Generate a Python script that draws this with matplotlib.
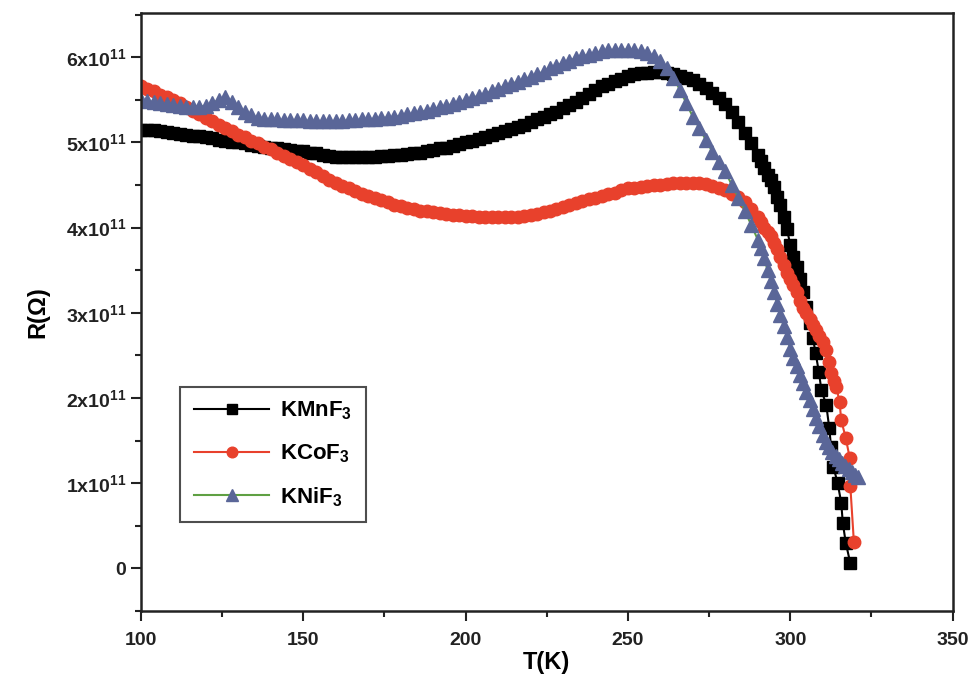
import matplotlib.pyplot as plt
from matplotlib.ticker import MultipleLocator, FuncFormatter
import numpy as np

plt.rcParams['font.family'] = ['Liberation Sans', 'DejaVu Sans']
plt.rcParams['font.weight'] = 'bold'
plt.rcParams['mathtext.fontset'] = 'custom'
plt.rcParams['mathtext.rm'] = 'Liberation Sans:bold'
plt.rcParams['mathtext.bf'] = 'Liberation Sans:bold'
plt.rcParams['mathtext.it'] = 'Liberation Sans:bold'

SCALE = 1e11  # R values below are read in units of 1e11 Ohm

# KMnF3
mnT = [100, 102, 104, 106, 108, 110, 112, 114, 116, 118, 120, 122, 124, 126, 128, 130,
       132, 134, 136, 138, 140, 142, 144, 146, 148, 150, 152, 154, 156, 158, 160, 162,
       164, 166, 168, 170, 172, 174, 176, 178, 180, 182, 184, 186, 188, 190, 192, 194,
       196, 198, 200, 202, 204, 206, 208, 210, 212, 214, 216, 218, 220, 222, 224, 226,
       228, 230, 232, 234, 236, 238, 240, 242, 244, 246, 248, 250, 252, 254, 256, 258,
       260, 262, 264, 266, 268, 270, 272, 274, 276, 278, 280, 282, 284, 286, 288, 290,
       291, 292, 293, 294, 295, 296, 297, 298, 299, 300, 301, 302, 303, 304, 305, 306,
       307, 307.8, 308.8, 309.6, 311.1, 312, 312.6, 313.3, 314.6, 315.7, 316.2, 317.1,
       318.5]
mnR = [5.15, 5.14, 5.14, 5.13, 5.12, 5.11, 5.10, 5.09, 5.08, 5.07, 5.06, 5.05, 5.03, 5.02,
       5.01, 5.00, 4.99, 4.97, 4.96, 4.95, 4.94, 4.93, 4.92, 4.91, 4.90, 4.90, 4.88, 4.87,
       4.85, 4.84, 4.83, 4.83, 4.83, 4.83, 4.83, 4.83, 4.83, 4.84, 4.84, 4.85, 4.85, 4.86,
       4.87, 4.88, 4.90, 4.91, 4.93, 4.94, 4.96, 4.98, 5.00, 5.02, 5.04, 5.06, 5.09, 5.11,
       5.13, 5.16, 5.18, 5.21, 5.24, 5.27, 5.30, 5.33, 5.36, 5.40, 5.44, 5.48, 5.52, 5.57,
       5.62, 5.66, 5.69, 5.72, 5.75, 5.78, 5.80, 5.81, 5.82, 5.83, 5.83, 5.82, 5.80, 5.78,
       5.76, 5.73, 5.69, 5.64, 5.58, 5.52, 5.45, 5.36, 5.24, 5.11, 4.99, 4.85, 4.78, 4.70,
       4.62, 4.56, 4.48, 4.36, 4.26, 4.12, 3.98, 3.80, 3.66, 3.54, 3.40, 3.24, 3.07, 2.88,
       2.70, 2.53, 2.31, 2.09, 1.92, 1.65, 1.42, 1.19, 1.00, 0.77, 0.53, 0.30, 0.06]

# KCoF3
coT = [100, 102, 104, 106, 108, 110, 112, 114, 116, 118, 120, 122, 124, 126, 128, 130,
       132, 134, 136, 138, 140, 142, 144, 146, 148, 150, 152, 154, 156, 158, 160, 162,
       164, 166, 168, 170, 172, 174, 176, 178, 180, 182, 184, 186, 188, 190, 192, 194,
       196, 198, 200, 202, 204, 206, 208, 210, 212, 214, 216, 218, 220, 222, 224, 226,
       228, 230, 232, 234, 236, 238, 240, 242, 244, 246, 248, 250, 252, 254, 256, 258,
       260, 262, 264, 266, 268, 270, 272, 274, 276, 278, 280, 282, 284, 286, 288, 290,
       291, 292, 293, 294, 295, 296, 297, 298, 299, 300, 301, 302, 303, 304, 305, 306,
       307, 308, 309, 310, 311, 312, 312.7, 313.5, 314.2, 315.2, 315.7, 317.1, 318.3,
       318.5, 319.6]
coR = [5.66, 5.63, 5.60, 5.56, 5.53, 5.50, 5.46, 5.42, 5.37, 5.33, 5.29, 5.25, 5.21, 5.17,
       5.13, 5.09, 5.06, 5.02, 4.99, 4.95, 4.92, 4.88, 4.84, 4.81, 4.77, 4.73, 4.69, 4.65,
       4.60, 4.56, 4.52, 4.49, 4.46, 4.43, 4.40, 4.37, 4.35, 4.32, 4.30, 4.27, 4.25, 4.23,
       4.22, 4.20, 4.19, 4.18, 4.17, 4.16, 4.15, 4.15, 4.14, 4.14, 4.13, 4.13, 4.12, 4.12,
       4.12, 4.13, 4.13, 4.14, 4.15, 4.16, 4.18, 4.20, 4.22, 4.24, 4.26, 4.29, 4.31, 4.33,
       4.35, 4.37, 4.39, 4.41, 4.44, 4.46, 4.47, 4.48, 4.49, 4.50, 4.50, 4.51, 4.52, 4.52,
       4.52, 4.52, 4.52, 4.51, 4.49, 4.47, 4.44, 4.40, 4.36, 4.30, 4.22, 4.12, 4.06, 4.00,
       3.95, 3.90, 3.82, 3.75, 3.66, 3.56, 3.47, 3.40, 3.32, 3.24, 3.14, 3.06, 3.00, 2.93,
       2.86, 2.80, 2.73, 2.66, 2.56, 2.42, 2.29, 2.20, 2.13, 1.95, 1.74, 1.53, 1.30, 0.97,
       0.31]

# KNiF3
niT = [100, 102, 104, 106, 108, 110, 112, 114, 116, 118, 120, 122, 124, 126, 128, 130,
       132, 134, 136, 138, 140, 142, 144, 146, 148, 150, 152, 154, 156, 158, 160, 162,
       164, 166, 168, 170, 172, 174, 176, 178, 180, 182, 184, 186, 188, 190, 192, 194,
       196, 198, 200, 202, 204, 206, 208, 210, 212, 214, 216, 218, 220, 222, 224, 226,
       228, 230, 232, 234, 236, 238, 240, 242, 244, 246, 248, 250, 252, 254, 256, 258,
       260, 262, 264, 266, 268, 270, 272, 274, 276, 278, 280, 282, 284, 286, 288, 290,
       291, 292, 293, 294, 295, 296, 297, 298, 299, 300, 301, 302, 303, 304, 305, 306,
       307, 308, 309, 310, 311, 312, 313, 314, 315, 316, 317, 318, 319, 320, 321]
niR = [5.50, 5.49, 5.47, 5.46, 5.45, 5.44, 5.43, 5.42, 5.42, 5.42, 5.43, 5.46, 5.50, 5.53,
       5.48, 5.41, 5.36, 5.32, 5.29, 5.28, 5.27, 5.27, 5.26, 5.26, 5.26, 5.26, 5.25, 5.25,
       5.25, 5.25, 5.25, 5.25, 5.26, 5.26, 5.27, 5.27, 5.28, 5.29, 5.29, 5.30, 5.31, 5.33,
       5.34, 5.36, 5.37, 5.39, 5.41, 5.43, 5.45, 5.47, 5.50, 5.52, 5.55, 5.57, 5.60, 5.63,
       5.66, 5.69, 5.71, 5.74, 5.77, 5.80, 5.83, 5.87, 5.90, 5.93, 5.96, 5.99, 6.01, 6.03,
       6.05, 6.07, 6.08, 6.09, 6.09, 6.09, 6.08, 6.07, 6.05, 6.01, 5.95, 5.87, 5.76, 5.62,
       5.46, 5.30, 5.17, 5.03, 4.89, 4.77, 4.66, 4.50, 4.35, 4.20, 4.03, 3.86, 3.76, 3.64,
       3.50, 3.37, 3.24, 3.10, 2.97, 2.84, 2.71, 2.58, 2.47, 2.37, 2.27, 2.17, 2.07, 1.97,
       1.87, 1.77, 1.67, 1.57, 1.48, 1.42, 1.37, 1.32, 1.28, 1.24, 1.20, 1.17, 1.13, 1.10,
       1.07]

fig = plt.figure(figsize=(9.72, 6.81), dpi=100)
ax = fig.add_axes([0.145, 0.103, 0.835, 0.878])

ax.plot(mnT, np.array(mnR) * SCALE, color='black', lw=1.5, marker='s', ms=8,
        mfc='black', mec='black', label='KMnF$_3$')
ax.plot(coT, np.array(coR) * SCALE, color='#e8412c', lw=1.5, marker='o', ms=9,
        mfc='#e8412c', mec='#e8412c', label='KCoF$_3$')
ax.plot(niT, np.array(niR) * SCALE, color='#5fa043', lw=1.5, marker='^', ms=10.5,
        mfc='#5a6698', mec='#5a6698', label='KNiF$_3$')

ax.set_xlim(100, 350)
ax.set_ylim(-0.5e11, 6.52e11)
ax.xaxis.set_major_locator(MultipleLocator(50))
ax.xaxis.set_minor_locator(MultipleLocator(25))
ax.yaxis.set_major_locator(MultipleLocator(1e11))
ax.yaxis.set_minor_locator(MultipleLocator(0.5e11))


def yfmt(v, pos):
    n = int(round(v / 1e11))
    if n == 0:
        return '0'
    return f'{n}x10$^{{11}}$'


ax.yaxis.set_major_formatter(FuncFormatter(yfmt))
ax.tick_params(which='both', direction='out', top=False, right=False, width=1.5,
               colors='#222222', labelsize=14)
ax.tick_params(which='major', length=7)
ax.tick_params(which='minor', length=4)
ax.tick_params(axis='x', pad=8)
for s in ax.spines.values():
    s.set_linewidth(1.8)
    s.set_color('#222222')

ax.set_xlabel('T(K)', fontsize=17, fontweight='bold', labelpad=2)
ax.set_ylabel('R(\u03a9)', fontsize=17, fontweight='bold', labelpad=12)

leg = ax.legend(loc='lower left', bbox_to_anchor=(0.035, 0.13), fontsize=16,
                frameon=True, fancybox=False, edgecolor='#222222', handlelength=3.4,
                borderpad=0.6, labelspacing=0.9, handletextpad=0.5, markerscale=0.85)
leg.get_frame().set_linewidth(1.5)

fig.savefig('out.png', dpi=100)
